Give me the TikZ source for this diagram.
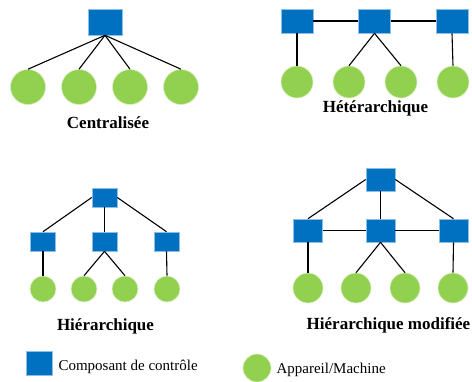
\documentclass[tikz,border=0pt]{standalone}
\usepackage{fontspec}
\setmainfont{Liberation Serif}
\definecolor{ctrlblue}{HTML}{0070C0}
\definecolor{devgreen}{HTML}{92D050}
\begin{document}
\begin{tikzpicture}[x=1pt, y=-1pt,
  ctrl/.style 2 args={rectangle, fill=ctrlblue, draw=ctrlblue!45!white, line width=0.6pt,
    inner sep=0pt, minimum width=#1pt, minimum height=#2pt},
  dev/.style={circle, fill=devgreen, draw=devgreen!35!white, line width=0.6pt,
    inner sep=0pt, minimum size=#1pt},
  link/.style={line width=1.1pt},
  title/.style={anchor=base, font=\bfseries\fontsize{17}{20}\selectfont},
  legend/.style={anchor=base west, font=\fontsize{15}{18}\selectfont}]
  \useasboundingbox (0, 0) rectangle (472, 381);
  % centralisee
  \node[ctrl={34}{26}] (c) at (105, 22) {};
  \foreach \i/\x in {1/28, 2/79, 3/130, 4/181}
    \node[dev=35] (cd\i) at (\x, 87) {};
  \foreach \i in {1,...,4}
    \draw[link] (c.south) -- (cd\i.north);
  \node[title] (tc) at (108, 128) {Centralisée};
  % heterarchique
  \foreach \i/\x in {1/297, 2/374.5, 3/452}
    \node[ctrl={32}{24}] (h\i) at (\x, 21) {};
  \foreach \i/\x in {1/297, 2/349, 3/401, 4/453}
    \node[dev=32] (hd\i) at (\x, 82) {};
  \draw[link] (h1.east) -- (h2.west);
  \draw[link] (h2.east) -- (h3.west);
  \draw[link] (h1.south) -- (hd1.north);
  \draw[link] (h2.south) -- (hd2.north);
  \draw[link] (h2.south) -- (hd3.north);
  \draw[link] (h3.south) -- (hd4.north);
  \node[title] (th) at (375.5, 112) {Hétérarchique};
  % hierarchique
  \node[ctrl={25}{19}] (r) at (104.5, 197.5) {};
  \foreach \i/\x in {1/43, 2/104.5, 3/166.5}
    \node[ctrl={25}{19}] (m\i) at (\x, 241.5) {};
  \foreach \i/\x in {1/43, 2/84, 3/125, 4/167}
    \node[dev=26] (e\i) at (\x, 289) {};
  \draw[link] (r.west) -- (m1.north);
  \draw[link] (r.south) -- (m2.north);
  \draw[link] (r.east) -- (m3.north);
  \draw[link] (m1.south) -- (e1.north);
  \draw[link] (m2.south) -- (e2.north);
  \draw[link] (m2.south) -- (e3.north);
  \draw[link] (m3.south) -- (e4.north);
  \node[title] (tr) at (105.5, 330) {Hiérarchique};
  % hierarchique modifiee
  \node[ctrl={29}{23}] (t) at (380.5, 179.5) {};
  \foreach \i/\x in {1/308, 2/380.5, 3/453.5}
    \node[ctrl={29}{23}] (n\i) at (\x, 230.5) {};
  \foreach \i/\x in {1/308, 2/356, 3/405, 4/453}
    \node[dev=30] (nd\i) at (\x, 288) {};
  \draw[link] (t.west) -- (n1.north);
  \draw[link] (t.south) -- (n2.north);
  \draw[link] (t.east) -- (n3.north);
  \draw[link] (n1.east) -- (n2.west);
  \draw[link] (n2.east) -- (n3.west);
  \draw[link] (n1.south) -- (nd1.north);
  \draw[link] (n2.south) -- (nd2.north);
  \draw[link] (n2.south) -- (nd3.north);
  \draw[link] (n3.south) -- (nd4.north);
  \node[title] (tm) at (388.5, 329.5) {Hiérarchique modifiée};
  % legende
  \node[ctrl={26}{24}] (lc) at (39, 363) {};
  \node[legend] (lct) at (55, 370) {Composant de contrôle};
  \node[dev=28] (ld) at (257, 368) {};
  \node[legend] (ldt) at (273, 373) {Appareil/Machine};
\end{tikzpicture}
\end{document}
